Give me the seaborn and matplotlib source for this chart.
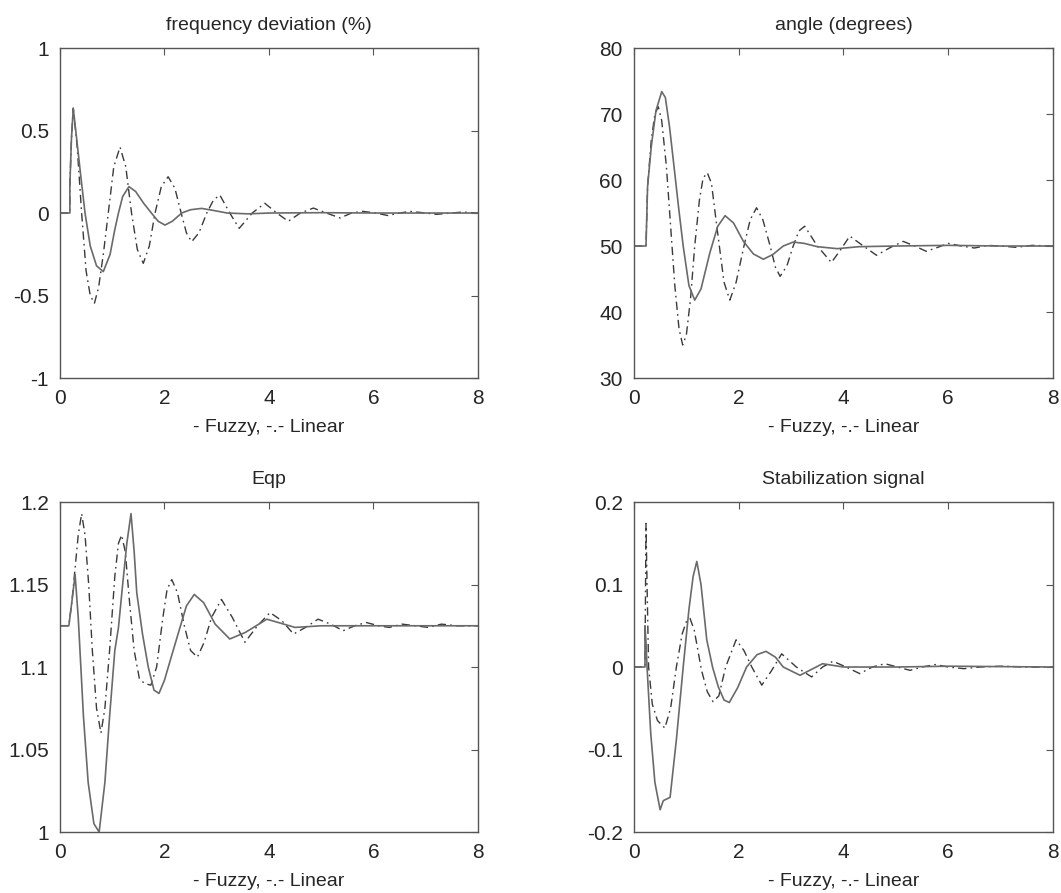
#/usr/bin/env python
# 2x2 response comparison: fuzzy (solid) vs linear (dash-dot) stabilizer
import numpy as np
import pandas as pd
import matplotlib
matplotlib.use("Agg")
import matplotlib.pyplot as plt
import seaborn as sns

# --- frequency deviation (%) ---
t_freq_fuzzy = [0, 0.19, 0.19, 0.22, 0.255, 0.32, 0.40, 0.48, 0.58, 0.70, 0.83, 0.96, 1.05, 1.12, 1.20,
                1.32, 1.45, 1.60, 1.75, 1.88, 2.01, 2.15, 2.33, 2.50, 2.71, 2.95, 3.2, 3.6, 4.0, 5, 6, 7, 8]
freq_fuzzy = [0, 0, 0.17, 0.45, 0.635, 0.45, 0.22, 0.0, -0.2, -0.32, -0.355, -0.25, -0.1, 0.0, 0.1,
              0.16, 0.13, 0.06, 0.0, -0.05, -0.073, -0.05, 0.0, 0.02, 0.028, 0.015, 0.0, -0.005, 0.0, 0.002, 0, 0, 0]
t_freq_linear = [0, 0.19, 0.19, 0.22, 0.255, 0.33, 0.415, 0.50, 0.58, 0.66, 0.74, 0.83, 0.925, 1.03, 1.15,
                 1.26, 1.37, 1.48, 1.595, 1.71, 1.82, 1.94, 2.07, 2.20, 2.32, 2.42, 2.52, 2.66, 2.81, 2.94,
                 3.06, 3.25, 3.43, 3.68, 3.92, 4.15, 4.37, 4.6, 4.85, 5.1, 5.36, 5.58, 5.80, 6.05, 6.27,
                 6.5, 6.7, 7.0, 7.2, 7.5, 7.7, 8.0]
freq_linear = [0, 0, 0.17, 0.45, 0.635, 0.4, 0.0, -0.35, -0.5, -0.547, -0.45, -0.25, 0.0, 0.28, 0.40,
               0.28, 0.0, -0.22, -0.305, -0.2, 0.0, 0.16, 0.22, 0.15, 0.0, -0.12, -0.174, -0.12, 0.0, 0.08,
               0.109, 0.0, -0.093, 0.0, 0.059, 0.0, -0.05, 0.0, 0.03, 0.0, -0.03, 0.0, 0.01, 0.0, -0.015,
               0, 0.01, 0, -0.008, 0, 0.006, 0]

# --- angle (degrees) ---
t_ang_fuzzy = [0, 0.23, 0.26, 0.33, 0.42, 0.53, 0.60, 0.68, 0.75, 0.85, 0.94, 1.05, 1.16, 1.28, 1.45,
               1.60, 1.74, 1.90, 2.09, 2.28, 2.47, 2.65, 2.85, 3.04, 3.25, 3.50, 3.88, 4.3, 5, 6, 7, 8]
ang_fuzzy = [50, 50, 59, 65, 70.5, 73.4, 72.5, 68, 63.1, 56, 50, 44, 41.8, 43.5, 49.0,
             53, 54.6, 53.5, 50.7, 48.8, 48.0, 48.7, 50.0, 50.6, 50.4, 49.9, 49.6, 49.9, 50.0, 50.1, 50.0, 50.0]
t_ang_linear = [0, 0.23, 0.26, 0.33, 0.40, 0.465, 0.53, 0.62, 0.70, 0.78, 0.86, 0.93, 1.00, 1.08, 1.16,
                1.25, 1.32, 1.40, 1.48, 1.55, 1.63, 1.72, 1.83, 1.95, 2.10, 2.22, 2.34, 2.46, 2.60, 2.70,
                2.79, 2.92, 3.04, 3.15, 3.26, 3.50, 3.77, 3.95, 4.12, 4.38, 4.63, 4.90, 5.14, 5.36, 5.58,
                5.80, 6.0, 6.25, 6.5, 6.75, 7.0, 7.3, 7.6, 8.0]
ang_linear = [50, 50, 59, 66, 70, 71.1, 69, 62, 53, 44, 37.5, 35.0, 36.5, 42, 50,
              57, 60.3, 61.1, 59.5, 55, 50, 44.5, 41.8, 44.5, 50, 54, 55.8, 54, 50, 46.8,
              45.4, 47, 50, 52.3, 53.0, 50, 47.5, 49.5, 51.5, 50, 48.6, 49.8, 50.7, 50, 49.2,
              49.8, 50.4, 50, 49.7, 50.1, 50, 49.8, 50.1, 50]

# --- Eqp ---
t_eqp_fuzzy = [0, 0.17, 0.23, 0.29, 0.35, 0.45, 0.54, 0.65, 0.75, 0.86, 0.95, 1.05, 1.12, 1.20, 1.28,
               1.36, 1.42, 1.47, 1.58, 1.69, 1.80, 1.895, 2.0, 2.12, 2.26, 2.42, 2.57, 2.75, 2.97, 3.25,
               3.55, 3.96, 4.5, 5.0, 6, 7, 8]
eqp_fuzzy = [1.125, 1.125, 1.14, 1.156, 1.13, 1.07, 1.03, 1.005, 1.0, 1.03, 1.07, 1.11, 1.124, 1.15, 1.175,
             1.193, 1.17, 1.145, 1.12, 1.10, 1.086, 1.084, 1.092, 1.105, 1.120, 1.137, 1.144, 1.139, 1.126, 1.117,
             1.121, 1.129, 1.124, 1.125, 1.125, 1.125, 1.125]
t_eqp_linear = [0, 0.17, 0.23, 0.29, 0.35, 0.415, 0.48, 0.55, 0.62, 0.70, 0.785, 0.86, 0.95, 1.05, 1.12,
                1.18, 1.25, 1.33, 1.42, 1.52, 1.62, 1.74, 1.85, 1.97, 2.05, 2.14, 2.25, 2.38, 2.50, 2.63,
                2.76, 2.90, 3.09, 3.30, 3.54, 3.78, 4.02, 4.25, 4.47, 4.70, 4.94, 5.18, 5.42, 5.64, 5.86,
                6.1, 6.3, 6.55, 6.8, 7.05, 7.3, 7.6, 8.0]
eqp_linear = [1.125, 1.125, 1.14, 1.16, 1.18, 1.193, 1.18, 1.15, 1.11, 1.075, 1.06, 1.075, 1.11, 1.155, 1.175,
              1.18, 1.17, 1.14, 1.11, 1.093, 1.09, 1.089, 1.10, 1.13, 1.147, 1.153, 1.145, 1.125, 1.11, 1.106,
              1.115, 1.13, 1.141, 1.13, 1.115, 1.125, 1.133, 1.128, 1.120, 1.124, 1.129, 1.126, 1.122, 1.125, 1.127,
              1.125, 1.124, 1.126, 1.125, 1.124, 1.126, 1.125, 1.125]

# --- Stabilization signal ---
t_stab_fuzzy = [0, 0.21, 0.21, 0.23, 0.25, 0.32, 0.40, 0.50, 0.56, 0.69, 0.81, 0.94, 1.05, 1.13, 1.20,
                1.28, 1.39, 1.50, 1.61, 1.72, 1.82, 1.98, 2.15, 2.35, 2.52, 2.70, 2.85, 3.17, 3.6, 4.0,
                5, 6, 8]
stab_fuzzy = [0, 0, 0.05, 0.03, 0.0, -0.08, -0.14, -0.173, -0.162, -0.158, -0.088, 0.0, 0.07, 0.11, 0.128,
              0.10, 0.033, 0.0, -0.024, -0.04, -0.043, -0.025, 0.0, 0.015, 0.019, 0.012, 0.0, -0.010, 0.004, 0.0,
              0.0, 0.001, 0]
t_stab_linear = [0, 0.21, 0.23, 0.25, 0.28, 0.35, 0.45, 0.59, 0.70, 0.81, 0.92, 1.00, 1.07, 1.15, 1.29,
                 1.40, 1.51, 1.62, 1.75, 1.95, 2.10, 2.25, 2.44, 2.62, 2.82, 3.1, 3.39, 3.6, 3.80, 4.05,
                 4.31, 4.55, 4.79, 5.03, 5.27, 5.5, 5.75, 6.0, 6.3, 6.6, 7, 7.5, 8]
stab_linear = [0, 0, 0.174, 0.10, 0.0, -0.045, -0.065, -0.074, -0.05, 0.0, 0.04, 0.055, 0.059, 0.045, -0.004,
               -0.03, -0.042, -0.035, 0.0, 0.033, 0.02, 0.0, -0.022, -0.005, 0.016, 0.0, -0.012, 0.0, 0.007, 0.0,
               -0.008, 0.0, 0.004, 0.0, -0.004, 0, 0.003, 0, -0.002, 0, 0.001, 0, 0]

titles = ['frequency deviation (%)', 'angle (degrees)', 'Eqp', 'Stabilization signal']
xlabel = '- Fuzzy, -.- Linear'
x_ticks = [0, 2, 4, 6, 8]
y_ticks = [[-1, -0.5, 0, 0.5, 1],
           [30, 40, 50, 60, 70, 80],
           [1, 1.05, 1.1, 1.15, 1.2],
           [-0.2, -0.1, 0, 0.1, 0.2]]
y_tick_labels = [['-1', '-0.5', '0', '0.5', '1'],
                 ['30', '40', '50', '60', '70', '80'],
                 ['1', '1.05', '1.1', '1.15', '1.2'],
                 ['-0.2', '-0.1', '0', '0.1', '0.2']]

panels = [(t_freq_fuzzy, freq_fuzzy, t_freq_linear, freq_linear),
          (t_ang_fuzzy, ang_fuzzy, t_ang_linear, ang_linear),
          (t_eqp_fuzzy, eqp_fuzzy, t_eqp_linear, eqp_linear),
          (t_stab_fuzzy, stab_fuzzy, t_stab_linear, stab_linear)]

sns.set_style("white")
plt.rcParams['font.family'] = ['Liberation Sans', 'DejaVu Sans']
plt.rcParams['axes.unicode_minus'] = False

fig = plt.figure(figsize=(10.61, 8.93), dpi=100)
# axes boxes in figure fractions (left, bottom, width, height)
boxes = [(0.0565, 0.5767, 0.394, 0.3695),
         (0.5975, 0.5767, 0.395, 0.3695),
         (0.0565, 0.0683, 0.394, 0.3695),
         (0.5975, 0.0683, 0.395, 0.3695)]

for i, (tf, vf, tl, vl) in enumerate(panels):
    ax = fig.add_axes(boxes[i])
    df_f = pd.DataFrame({'t': tf, 'v': vf})
    df_l = pd.DataFrame({'t': tl, 'v': vl})
    sns.lineplot(data=df_l, x='t', y='v', ax=ax, sort=False, estimator=None,
                 color='#3a3a3a', linewidth=1.0)
    ax.lines[-1].set_dashes([6, 3, 1.2, 3])
    sns.lineplot(data=df_f, x='t', y='v', ax=ax, sort=False, estimator=None,
                 color='#6a6a6a', linewidth=1.2)
    ax.set_xlim(0, 8)
    ax.set_ylim(y_ticks[i][0], y_ticks[i][-1])
    ax.set_xticks(x_ticks)
    ax.set_xticklabels([str(x) for x in x_ticks])
    ax.set_yticks(y_ticks[i])
    ax.set_yticklabels(y_tick_labels[i])
    ax.tick_params(direction='in', length=5, width=0.8, color='#555555',
                   top=True, right=True, labelsize=15, pad=8)
    for s in ax.spines.values():
        s.set_visible(True)
        s.set_color('#555555')
        s.set_linewidth(1.0)
    ax.set_title(titles[i], fontsize=14, pad=13)
    ax.set_xlabel(xlabel, fontsize=14, labelpad=8)
    ax.set_ylabel('')

plt.savefig('out.png', dpi=100)
